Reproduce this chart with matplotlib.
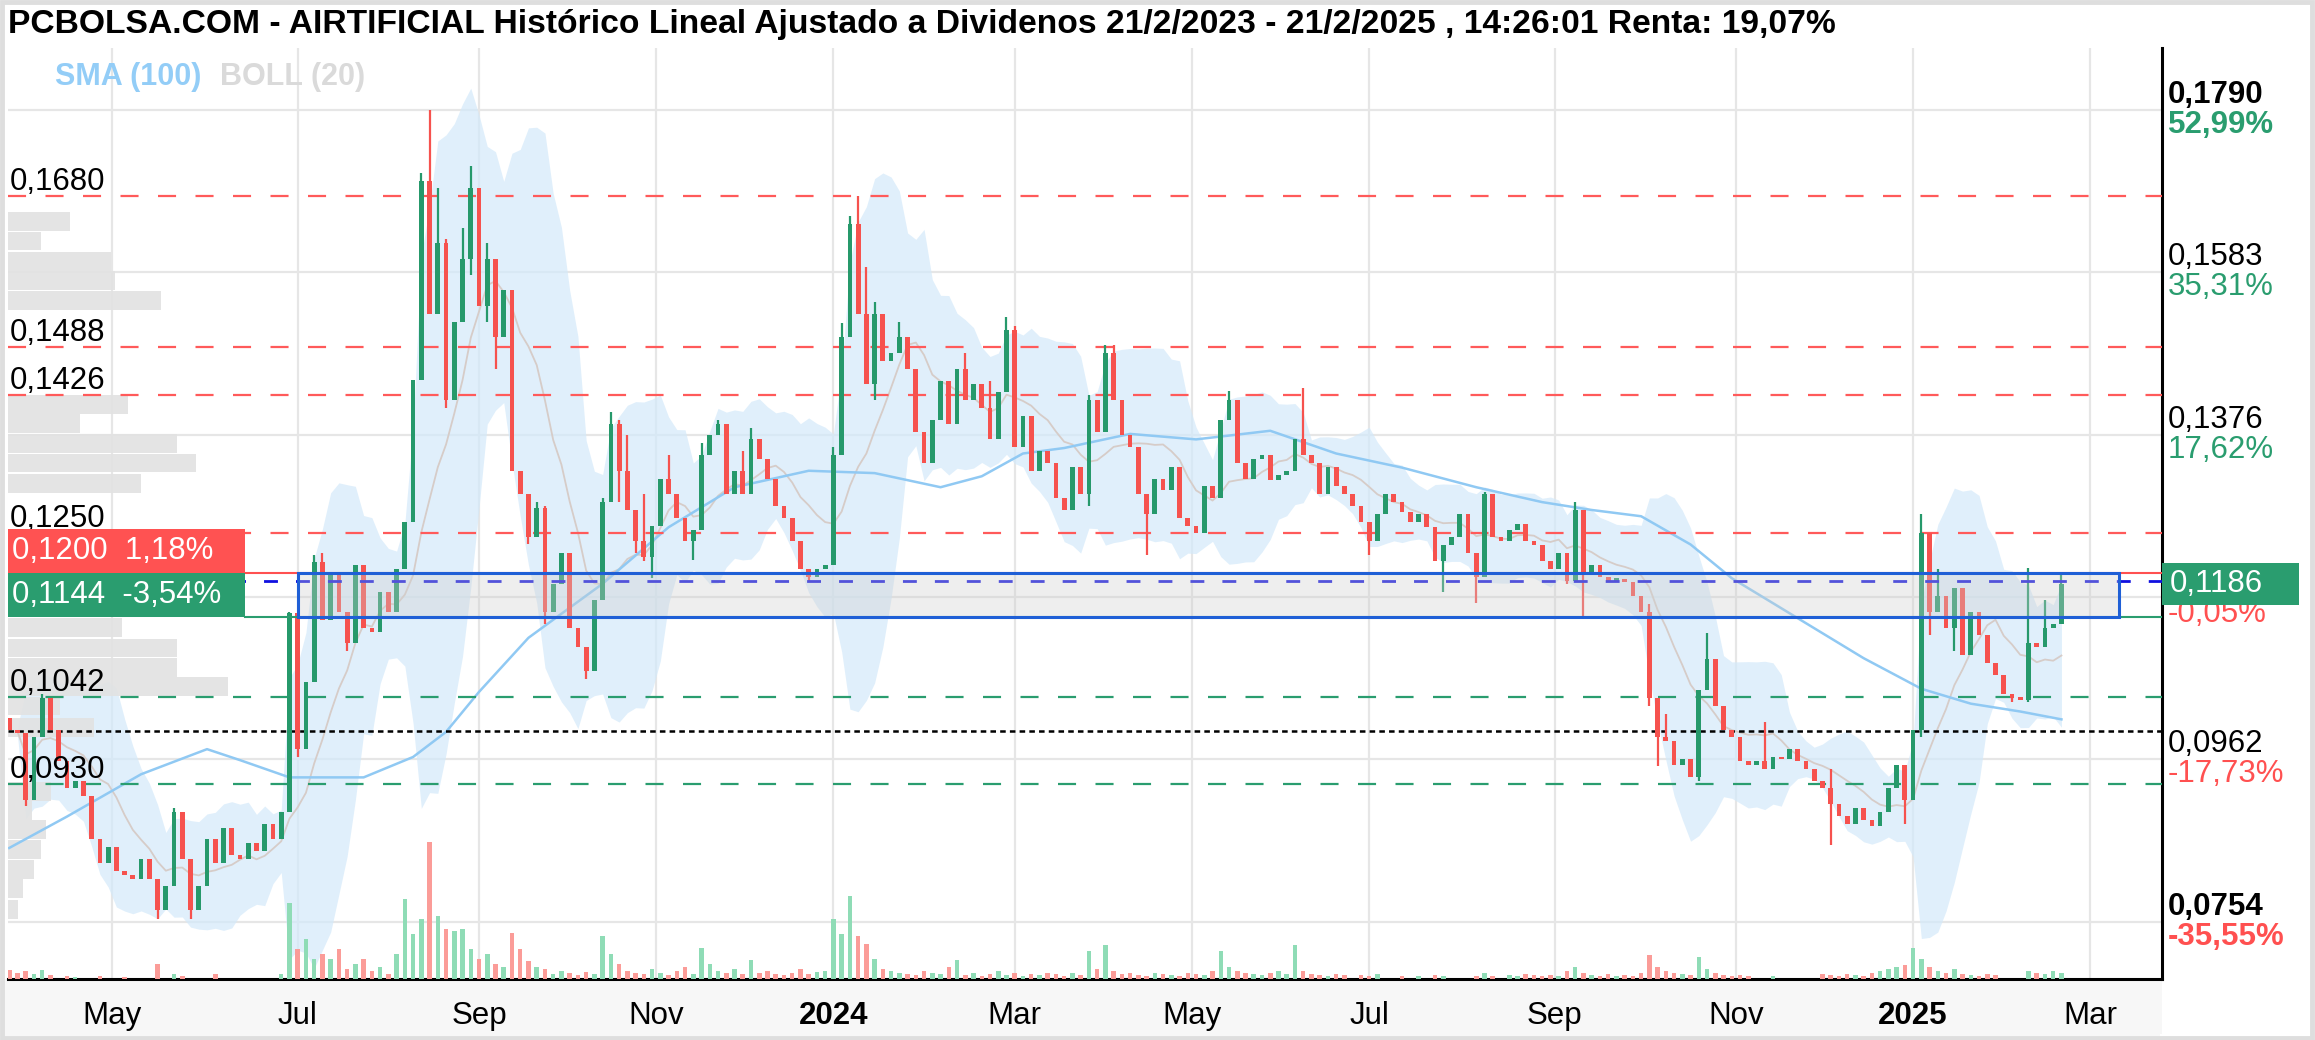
import matplotlib
matplotlib.use("Agg")
import matplotlib.pyplot as plt
from matplotlib.patches import Rectangle
import matplotlib.transforms as mtransforms
import numpy as np
import pandas as pd

plt.rcParams['font.family'] = ['Liberation Sans', 'DejaVu Sans']
plt.rcParams['lines.scale_dashes'] = False

W, H, DPI = 2315, 1040, 100

# ---------------- data ----------------
# one candle every second session, starting 27/3/2023
first_open = 0.1015
closes = [
    0.1000, 0.0995, 0.0910, 0.0990, 0.1040, 0.1000, 0.0960, 0.0925, 0.0935, 0.0915,
    0.0860, 0.0830, 0.0850, 0.0820, 0.0815, 0.0810, 0.0835, 0.0810, 0.0770, 0.0800,
    0.0895, 0.0835, 0.0770, 0.0800, 0.0860, 0.0830, 0.0875, 0.0840, 0.0835, 0.0855,
    0.0845, 0.0880, 0.0860, 0.0895, 0.1149, 0.0975, 0.1060, 0.1214, 0.1140, 0.1200,
    0.1150, 0.1110, 0.1210, 0.1130, 0.1125, 0.1175, 0.1150, 0.1205, 0.1265, 0.1446,
    0.1700, 0.1530, 0.1620, 0.1420, 0.1520, 0.1600, 0.1690, 0.1540, 0.1600, 0.1500,
    0.1560, 0.1330, 0.1300, 0.1245, 0.1283, 0.1150, 0.1185, 0.1225, 0.1130, 0.1105,
    0.1075, 0.1165, 0.1290, 0.1390, 0.1330, 0.1280, 0.1240, 0.1220, 0.1260, 0.1320,
    0.1300, 0.1270, 0.1240, 0.1255, 0.1350, 0.1375, 0.1390, 0.1300, 0.1330, 0.1300,
    0.1370, 0.1345, 0.1320, 0.1285, 0.1270, 0.1240, 0.1205, 0.1195, 0.1205, 0.1210,
    0.1350, 0.1500, 0.1645, 0.1530, 0.1440, 0.1530, 0.1470, 0.1480, 0.1500, 0.1460,
    0.1380, 0.1340, 0.1395, 0.1445, 0.1390, 0.1460, 0.1420, 0.1440, 0.1410, 0.1370,
    0.1430, 0.1510, 0.1360, 0.1400, 0.1330, 0.1355, 0.1340, 0.1295, 0.1280, 0.1335,
    0.1300, 0.1420, 0.1380, 0.1480, 0.1420, 0.1375, 0.1360, 0.1300, 0.1275, 0.1320,
    0.1305, 0.1335, 0.1270, 0.1260, 0.1250, 0.1310, 0.1295, 0.1395, 0.1420, 0.1340,
    0.1320, 0.1345, 0.1350, 0.1318, 0.1325, 0.1330, 0.1370, 0.1350, 0.1340, 0.1300,
    0.1335, 0.1310, 0.1300, 0.1285, 0.1265, 0.1240, 0.1275, 0.1300, 0.1290, 0.1278,
    0.1265, 0.1275, 0.1258, 0.1215, 0.1235, 0.1245, 0.1275, 0.1225, 0.1195, 0.1300,
    0.1245, 0.1240, 0.1255, 0.1262, 0.1240, 0.1235, 0.1215, 0.1205, 0.1225, 0.1190,
    0.1280, 0.1200, 0.1210, 0.1195, 0.1190, 0.1192, 0.1188, 0.1170, 0.1150, 0.1040,
    0.0990, 0.0985, 0.0955, 0.0963, 0.0940, 0.1050, 0.1090, 0.1030, 0.1000, 0.0990,
    0.0960, 0.0955, 0.0960, 0.0950, 0.0965, 0.0962, 0.0975, 0.0960, 0.0950, 0.0935,
    0.0925, 0.0905, 0.0890, 0.0880, 0.0900, 0.0885, 0.0877, 0.0895, 0.0925, 0.0955,
    0.0910, 0.1000, 0.1250, 0.1150, 0.1170, 0.1130, 0.1180, 0.1095, 0.1150, 0.1120,
    0.1085, 0.1070, 0.1045, 0.1040, 0.1038, 0.1110, 0.1105, 0.1130, 0.1135, 0.1186,
]

# candles with a visible upper / lower wick (candle number, price)
wick_hi_k = [4, 20, 34, 37, 38, 50, 51, 52, 53, 55, 56, 57, 58, 59, 61, 64, 65, 72, 73, 74,
             75, 77, 80, 84, 86, 87, 89, 90, 100, 101, 102, 103, 104, 105, 108, 116, 119, 121,
             122, 131, 133, 134, 148, 157, 179, 190, 191, 199, 201, 206, 213, 221, 232, 233,
             234, 245, 247, 249]
wick_hi_v = [0.1045, 0.0900, 0.1150, 0.1222, 0.1225, 0.1710, 0.1790, 0.1690, 0.1625, 0.1640,
             0.1718, 0.1680, 0.1620, 0.1590, 0.1530, 0.1290, 0.1285, 0.1295, 0.1405, 0.1395,
             0.1375, 0.1300, 0.1350, 0.1365, 0.1395, 0.1360, 0.1355, 0.1385, 0.1360, 0.1518,
             0.1655, 0.1680, 0.1590, 0.1545, 0.1520, 0.1480, 0.1445, 0.1526, 0.1515, 0.1426,
             0.1490, 0.1490, 0.1432, 0.1435, 0.1303, 0.1290, 0.1265, 0.1160, 0.1020, 0.1123,
             0.1010, 0.0950, 0.1275, 0.1240, 0.1205, 0.1206, 0.1165, 0.1198]
wick_lo_k = [2, 18, 22, 35, 36, 41, 53, 56, 58, 59, 63, 65, 70, 74, 76, 77, 78, 83, 97, 105,
             131, 138, 165, 174, 178, 189, 191, 199, 200, 205, 221, 230, 232, 233, 236, 243, 245]
wick_lo_v = [0.0903, 0.0758, 0.0758, 0.0965, 0.0990, 0.1100, 0.1410, 0.1580, 0.1520, 0.1460,
             0.1237, 0.1135, 0.1065, 0.1290, 0.1225, 0.1215, 0.1193, 0.1216, 0.1188, 0.1420,
             0.1285, 0.1222, 0.1222, 0.1175, 0.1162, 0.1185, 0.1144, 0.1030, 0.0954, 0.0935,
             0.0853, 0.0880, 0.0990, 0.1120, 0.1100, 0.1035, 0.1035]

volumes = [
    9, 6, 8, 5, 9, 4, 0, 3, 2, 0,
    0, 3, 0, 0, 2, 0, 0, 0, 15, 0,
    5, 3, 0, 0, 0, 5, 0, 0, 0, 0,
    0, 0, 0, 5, 76, 30, 40, 20, 25, 20,
    30, 10, 15, 20, 8, 12, 5, 25, 80, 45,
    60, 137, 63, 50, 48, 50, 30, 20, 25, 15,
    12, 46, 30, 18, 12, 10, 5, 8, 6, 4,
    7, 5, 43, 25, 15, 8, 6, 5, 10, 6,
    4, 8, 12, 5, 31, 15, 8, 6, 10, 5,
    19, 6, 8, 5, 4, 6, 10, 5, 7, 8,
    60, 45, 83, 43, 35, 20, 10, 8, 6, 5,
    4, 8, 6, 5, 12, 19, 4, 6, 3, 5,
    8, 4, 6, 3, 5, 4, 6, 5, 3, 6,
    4, 28, 10, 34, 8, 5, 6, 4, 3, 6,
    5, 4, 3, 6, 5, 4, 8, 28, 12, 8,
    6, 5, 4, 6, 8, 5, 34, 8, 5, 4,
    3, 5, 4, 0, 4, 3, 5, 0, 0, 3,
    0, 3, 0, 4, 3, 0, 0, 0, 3, 6,
    3, 0, 4, 3, 5, 4, 3, 4, 3, 8,
    12, 6, 4, 3, 5, 3, 4, 3, 6, 24,
    12, 8, 6, 5, 4, 22, 10, 6, 4, 3,
    4, 3, 0, 0, 3, 0, 0, 0, 0, 0,
    5, 4, 3, 5, 4, 3, 6, 8, 10, 12,
    14, 31, 20, 12, 8, 6, 10, 5, 4, 3,
    5, 4, 0, 0, 0, 8, 6, 5, 8, 6,
]

# SMA(100) read at a few candles
sma_k = [0, 7, 16, 24, 28, 34, 43, 49, 53, 57, 63, 72, 80, 88, 97, 105, 113, 118, 123,
         128, 136, 144, 153, 161, 169, 178, 186, 192, 198, 204, 209, 217, 225, 232, 238, 244, 249]
sma_v = [0.0849, 0.0889, 0.0943, 0.0975, 0.0961, 0.0939, 0.0939, 0.0965, 0.0997, 0.1048,
         0.1117, 0.1186, 0.1258, 0.1309, 0.1330, 0.1327, 0.1309, 0.1323, 0.1352, 0.1359,
         0.1377, 0.1370, 0.1381, 0.1352, 0.1334, 0.1309, 0.1290, 0.1280, 0.1272, 0.1236,
         0.1193, 0.1142, 0.1091, 0.1052, 0.1033, 0.1023, 0.1013]

# volume by price (left side)
prof_price = [0.1648, 0.1623, 0.1597, 0.1573, 0.1547, 0.1414, 0.1390, 0.1365, 0.1340, 0.1314,
              0.1130, 0.1104, 0.1079, 0.1055, 0.1030, 0.1003, 0.0921, 0.0897, 0.0873, 0.0847,
              0.0822, 0.0797, 0.0771]
prof_vol = [62, 33, 103, 107, 153, 120, 72, 169, 188, 133,
            114, 169, 169, 220, 52, 86, 43, 24, 38, 33,
            26, 15, 10]

red_levels = [0.1680, 0.1488, 0.1426, 0.1250]
green_levels = [0.1042, 0.0930]
start_price = 0.0998
blue_level = 0.1190
zone_low, zone_high = 0.1144, 0.1200
zone_pct_high, zone_pct_low = '1,18%', '-3,54%'
zone_start, zone_end = '2023-07-03', '2025-03-12'
last_price, last_pct = 0.1186, '-0,05%'

grid_prices = [0.1790, 0.1583, 0.1376, 0.1169, 0.0962, 0.0754]
grid_pcts = ['52,99%', '35,31%', '17,62%', '', '-17,73%', '-35,55%']

title = ('PCBOLSA.COM - AIRTIFICIAL Histórico Lineal Ajustado a Dividenos '
         '21/2/2023 - 21/2/2025 , 14:26:01 Renta: 19,07%')

# ---------------- colours ----------------
UP = '#26996b'
DOWN = '#f6524e'
VUP = '#8fdcb6'
VDOWN = '#fb9c98'
PCT_UP = '#2a9d6f'
PCT_DN = '#ff5050'


def fmt(v):
    return ('%.4f' % v).replace('.', ',')


bdays = pd.bdate_range('2023-03-27', '2025-03-31')
n = len(closes)
xs = np.arange(n) * 2
c = np.array(closes)
o = np.array([first_open] + closes[:-1])
hi = np.maximum(o, c)
lo = np.minimum(o, c)
for k, v in zip(wick_hi_k, wick_hi_v):
    hi[k] = max(hi[k], v)
for k, v in zip(wick_lo_k, wick_lo_v):
    lo[k] = min(lo[k], v)

XMIN, XMAX = -0.3, 522.4
YMIN, YMAX = 0.06819, 0.18691

fig = plt.figure(figsize=(W / DPI, H / DPI), dpi=DPI)
fig.patch.set_facecolor('white')

# frame and grey bands
fig.add_artist(Rectangle((4 / W, 4 / H), 2156 / W, 45 / H, transform=fig.transFigure,
                         facecolor='#f7f7f7', edgecolor='none', zorder=0))
fig.add_artist(Rectangle((4 / W, 6 / H), 2158 / W, 55 / H, transform=fig.transFigure,
                         facecolor='#f7f7f7', edgecolor='none', zorder=0))
fig.add_artist(Rectangle((2 / W, 2 / H), 1 - 5 / W, 1 - 4 / H, transform=fig.transFigure,
                         facecolor='none', edgecolor='#dedede', lw=3.5, zorder=0))

ax = fig.add_axes([8 / W, 61 / H, 2154 / W, 931 / H])
ax.set_xlim(XMIN, XMAX)
ax.set_ylim(YMIN, YMAX)
ax.set_facecolor('white')
for s in ['top', 'left']:
    ax.spines[s].set_visible(False)
ax.spines['right'].set_linewidth(2.2)
ax.spines['bottom'].set_linewidth(2.2)
ax.set_yticks([])

# month ticks (first session of every second month)
pos = pd.Series(np.arange(len(bdays)), index=bdays)
firsts = pos.groupby([bdays.year, bdays.month]).head(1)
tick_x, tick_lab, tick_bold = [], [], []
for d, i in firsts.items():
    if d.day > 3 or d.month % 2 == 0:
        continue
    tick_x.append(i)
    if d.month == 1:
        tick_lab.append(str(d.year))
        tick_bold.append(True)
    else:
        tick_lab.append(d.strftime('%b'))
        tick_bold.append(False)
ax.set_xticks(tick_x)
ax.set_xticklabels(tick_lab, fontsize=22.5)
for t, b in zip(ax.get_xticklabels(), tick_bold):
    if b:
        t.set_fontweight('bold')
ax.tick_params(axis='x', length=0, pad=16)

for x in tick_x:
    ax.axvline(x, color='#e6e6e6', lw=1.6, zorder=0.5)
for p in grid_prices:
    ax.axhline(p, color='#e6e6e6', lw=1.6, zorder=0.5)

# Bollinger (20 sessions = 10 candles)
cs = pd.Series(c)
mid = cs.rolling(10, min_periods=2).mean()
sd = cs.rolling(10, min_periods=2).std(ddof=0)
ax.fill_between(xs, mid - 2 * sd, mid + 2 * sd, color='#d3e9fa', alpha=0.7, lw=0, zorder=1)
ax.plot(xs, mid, color='#d6ccc8', lw=1.3, zorder=2)

# volume profile
px_per_x = 2154 / (XMAX - XMIN)
ax.barh(prof_price, np.array(prof_vol) / px_per_x, height=0.00240, left=XMIN,
        color='#e2e2e2', alpha=0.9, zorder=1.5)

# SMA 100
ax.plot(np.array(sma_k) * 2, sma_v, color='#90c9f3', lw=1.8, zorder=2.5)

# candles
up = c >= o
col = np.where(up, UP, DOWN)
ax.vlines(xs, lo, hi, colors=col, lw=1.6, zorder=3)
ax.bar(xs, np.maximum(np.abs(c - o), 0.0003), bottom=np.minimum(o, c), width=1.15,
       color=col, lw=0, zorder=3)

# volume bars
vax = ax.twinx()
vax.set_ylim(0, 931)
vax.set_xlim(XMIN, XMAX)
vax.bar(xs, volumes, width=1.1, color=np.where(up, VUP, VDOWN), lw=0)
vax.axis('off')

# levels
for p in red_levels:
    ax.axhline(p, color='#ff5a5a', lw=1.6, dashes=(13, 14), zorder=2.6)
for p in green_levels:
    ax.axhline(p, color='#2a9d6f', lw=1.6, dashes=(13, 14), zorder=2.6)
ax.axhline(start_price, color='black', lw=1.8, dashes=(4, 3), zorder=2.6)
ax.axhline(blue_level, color='#1010e0', lw=2.0, dashes=(10, 13), zorder=4)

blend = mtransforms.blended_transform_factory(ax.transAxes, ax.transData)
box_w = 237 / 2154
ax.plot([box_w, 1], [zone_high] * 2, color='#ff5050', lw=1.5, transform=blend, zorder=4)
ax.plot([box_w, 1], [zone_low] * 2, color='#2a9d6f', lw=1.5, transform=blend, zorder=4)

z0 = pos[pd.Timestamp(zone_start)]
z1 = pos[pd.Timestamp(zone_end)]
ax.add_patch(Rectangle((z0, zone_low), z1 - z0, zone_high - zone_low, facecolor='#cfcfcf',
                       alpha=0.35, edgecolor='none', zorder=4))
ax.add_patch(Rectangle((z0, zone_low), z1 - z0, zone_high - zone_low, facecolor='none',
                       edgecolor='#1f5fd6', lw=2.2, zorder=4.5))

# left labels
for p in red_levels + green_levels:
    ax.annotate(fmt(p), xy=(0, p), xycoords=blend, xytext=(2, 6),
                textcoords='offset pixels', fontsize=22.5, va='baseline', zorder=6)
bh = zone_high - zone_low
ax.add_patch(Rectangle((0, zone_high), box_w, bh, transform=blend, facecolor='#ff5252',
                       edgecolor='none', zorder=6))
ax.add_patch(Rectangle((0, zone_low), box_w, bh, transform=blend, facecolor='#2a9d6f',
                       edgecolor='none', zorder=6))
ax.annotate(fmt(zone_high) + '  ' + zone_pct_high, xy=(0, zone_high + bh / 2), xycoords=blend,
            xytext=(4, 0), textcoords='offset pixels', fontsize=22.5, color='white',
            va='center', zorder=7)
ax.annotate(fmt(zone_low) + '  ' + zone_pct_low, xy=(0, zone_low + bh / 2), xycoords=blend,
            xytext=(4, 0), textcoords='offset pixels', fontsize=22.5, color='white',
            va='center', zorder=7)

# right labels
for p, pct in zip(grid_prices, grid_pcts):
    if not pct:
        continue
    bold = p in (grid_prices[0], grid_prices[-1])
    w = 'bold' if bold else 'normal'
    ax.annotate(fmt(p), xy=(1, p), xycoords=blend, xytext=(6, 15), textcoords='offset pixels',
                fontsize=22.5, va='center', fontweight=w, annotation_clip=False)
    ax.annotate(pct, xy=(1, p), xycoords=blend, xytext=(6, -15), textcoords='offset pixels',
                fontsize=22.5, va='center', fontweight=w, annotation_clip=False,
                color=PCT_DN if pct.startswith('-') else PCT_UP)

lp_h = 42 / 931 * (YMAX - YMIN)
ax.add_patch(Rectangle((1, last_price - lp_h / 2), 137 / 2154, lp_h, transform=blend,
                       facecolor='#2a9d6f', edgecolor='none', clip_on=False, zorder=6))
ax.annotate(fmt(last_price), xy=(1, last_price), xycoords=blend, xytext=(8, 0),
            textcoords='offset pixels', fontsize=22.5, color='white', va='center',
            annotation_clip=False, zorder=7)
ax.annotate(last_pct, xy=(1, last_price), xycoords=blend, xytext=(6, -30),
            textcoords='offset pixels', fontsize=22.5, color=PCT_DN, va='center',
            annotation_clip=False)

# title and legend
fig.text(8 / W, 1 - 25 / H, title, fontsize=24.2, fontweight='bold', va='center')
fig.text(55 / W, 1 - 77 / H, 'SMA (100)', fontsize=22, fontweight='bold', va='center',
         color='#93cdf7')
fig.text(220 / W, 1 - 77 / H, 'BOLL (20)', fontsize=22, fontweight='bold', va='center',
         color='#dadada')

fig.savefig('out.png', dpi=DPI)
